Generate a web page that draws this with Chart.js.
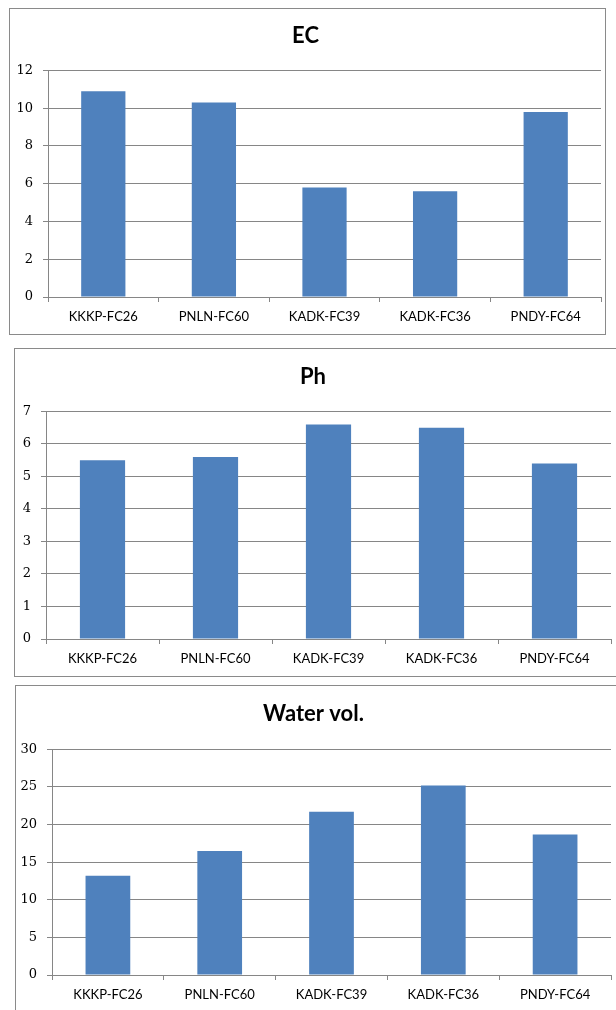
<!DOCTYPE html>
<html>
<head>
<meta charset="utf-8">
<title>EC, Ph and Water vol.</title>
<script src="https://cdn.jsdelivr.net/npm/chart.js@4/dist/chart.umd.min.js"></script>
<style>
  html, body { margin: 0; padding: 0; background: #ffffff; }
  body { width: 616px; height: 1010px; position: relative; overflow: hidden; }
  .panel { position: absolute; box-sizing: border-box; border: 1px solid #8a8a8a; background: #ffffff; }
  .panel canvas { display: block; }
</style>
</head>
<body>
<div class="panel" style="left:9px; top:8px; width:597px; height:327px;">
  <canvas id="ecChart" width="595" height="325"></canvas>
</div>
<div class="panel" style="left:14px; top:348px; width:604px; height:329px;">
  <canvas id="phChart" width="602" height="327"></canvas>
</div>
<div class="panel" style="left:15px; top:685px; width:603px; height:332px;">
  <canvas id="waterChart" width="601" height="330"></canvas>
</div>
<script>
// Sampling sites shared by all three panels
const categories = ['KKKP-FC26', 'PNLN-FC60', 'KADK-FC39', 'KADK-FC36', 'PNDY-FC64'];

// Measured values per site
const ecValues = [10.9, 10.3, 5.8, 5.6, 9.8];
const phValues = [5.5, 5.6, 6.6, 6.5, 5.4];
const waterValues = [13.2, 16.5, 21.7, 25.2, 18.7];

// Value-axis tick labels for each panel
const ecTicks = [0, 2, 4, 6, 8, 10, 12];
const phTicks = [0, 1, 2, 3, 4, 5, 6, 7];
const waterTicks = [0, 5, 10, 15, 20, 25, 30];

const BAR_BLUE = '#4f81bd';
const GRID_GREY = '#868686';

function makeBarChart(id, title, values, tickValues, g) {
  const ctx = document.getElementById(id).getContext('2d');
  return new Chart(ctx, {
    type: 'bar',
    data: {
      labels: categories,
      datasets: [{
        label: title,
        data: values,
        backgroundColor: BAR_BLUE,
        borderWidth: 0,
        categoryPercentage: 1,
        barPercentage: 0.4
      }]
    },
    options: {
      responsive: false,
      animation: false,
      devicePixelRatio: 1,
      layout: { padding: { top: g.padTop, right: g.padRight, left: 0, bottom: 0 } },
      plugins: {
        legend: { display: false },
        tooltip: { enabled: false },
        title: {
          display: true,
          text: title,
          color: '#000000',
          font: { family: 'Lato', size: 22, weight: 'bold', lineHeight: 1.2 },
          padding: { top: 0, bottom: g.titleGap }
        }
      },
      scales: {
        x: {
          type: 'category',
          offset: true,
          grid: {
            display: true,
            offset: true,
            drawOnChartArea: false,
            drawTicks: true,
            tickLength: 5,
            color: GRID_GREY,
            lineWidth: 1
          },
          border: { display: true, color: GRID_GREY, width: 1 },
          ticks: {
            color: '#000000',
            padding: 7,
            maxRotation: 0,
            autoSkip: false,
            font: { family: 'Lato', size: 13 }
          },
          afterFit: (scale) => { scale.height = g.xHeight; }
        },
        y: {
          min: tickValues[0],
          max: tickValues[tickValues.length - 1],
          grid: {
            display: true,
            drawOnChartArea: true,
            drawTicks: true,
            tickLength: 5,
            color: GRID_GREY,
            lineWidth: 1
          },
          border: { display: true, color: GRID_GREY, width: 1 },
          ticks: {
            color: '#000000',
            padding: 10,
            font: { family: 'DejaVu Serif', size: 13 }
          },
          afterBuildTicks: (scale) => {
            scale.ticks = tickValues.map(v => ({ value: v }));
          },
          afterFit: (scale) => { scale.width = g.yWidth; }
        }
      }
    }
  });
}

makeBarChart('ecChart', 'EC', ecValues, ecTicks,
  { padTop: 14, padRight: 4, titleGap: 21, yWidth: 38, xHeight: 37 });
makeBarChart('phChart', 'Ph', phValues, phTicks,
  { padTop: 15, padRight: 6, titleGap: 21, yWidth: 31, xHeight: 37 });
makeBarChart('waterChart', 'Water vol.', waterValues, waterTicks,
  { padTop: 15, padRight: 6, titleGap: 22, yWidth: 36, xHeight: 41 });
</script>
</body>
</html>
